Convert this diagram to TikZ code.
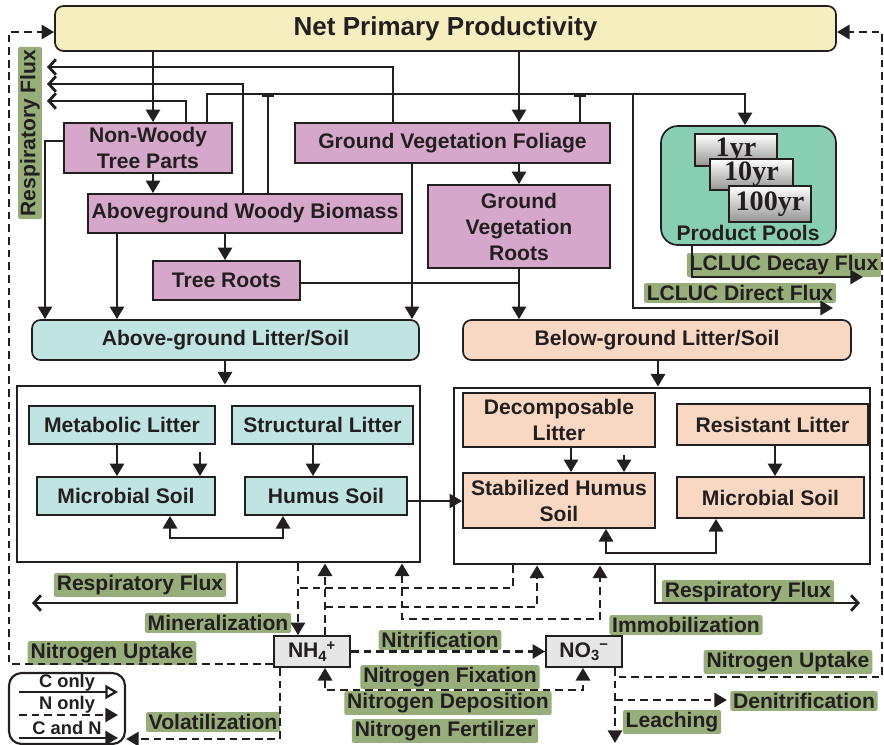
\documentclass[tikz,border=0pt]{standalone}
\usepackage{fontspec}
\setmainfont{Liberation Sans}
\newfontfamily\yrfont{Liberation Serif}
\usetikzlibrary{arrows.meta}
\definecolor{ink}{RGB}{35,31,32}
\definecolor{nppc}{RGB}{246,238,190}
\definecolor{purp}{RGB}{213,168,203}
\definecolor{cyanc}{RGB}{192,228,225}
\definecolor{peach}{RGB}{248,216,194}
\definecolor{tealc}{RGB}{136,206,178}
\definecolor{labg}{RGB}{152,174,122}
\definecolor{ngray}{RGB}{230,230,230}
% box node from pixel corners: style, name, x1, y1, x2, y2, text
\newcommand\bxn[7]{\node[#1,minimum width={(#5-#3)*0.025cm},minimum height={(#6-#4)*0.025cm}] (#2) at ({(#3+#5)/2},{(#4+#6)/2}) {#7};}
\begin{document}
\begin{tikzpicture}[x=0.025cm,y=-0.025cm,
  font=\fontsize{15}{18.5}\selectfont\bfseries,
  every node/.append style={text=ink},
  bx/.style={draw=ink,line width=1.2pt,inner sep=0pt,align=center},
  pbox/.style={bx,fill=purp},
  cbox/.style={bx,fill=cyanc},
  obox/.style={bx,fill=peach},
  cont/.style={draw=ink,line width=2pt,inner sep=0pt,fill=white},
  yrbox/.style={bx,top color=white,bottom color=black!42,font=\yrfont\bfseries\fontsize{20}{22}\selectfont},
  nbox/.style={bx,fill=ngray},
  glab/.style={fill=labg,inner xsep=2pt,inner ysep=1.5pt,rounded corners=1.5pt},
  ln/.style={draw=ink,line width=2pt},
  arr/.style={ln,-{Triangle[length=9pt,width=10pt]}},
  arr2/.style={ln,{Triangle[length=9pt,width=10pt]}-{Triangle[length=9pt,width=10pt]}},
  barb/.style={ln,-{Straight Barb[length=5pt,width=11pt]}},
  dsh/.style={ln,dash pattern=on 5.5pt off 3.5pt},
  darr/.style={dsh,-{Triangle[length=9pt,width=10pt]}},
  darr2/.style={dsh,{Triangle[length=9pt,width=10pt]}-{Triangle[length=9pt,width=10pt]}},
  tbar/.style={ln,{Bar[width=9pt]}-},
]
\useasboundingbox (0,0) rectangle (884,745);

% ---------- nodes ----------
\bxn{bx,fill=nppc,rounded corners=6pt,font=\fontsize{18.5}{22}\selectfont\bfseries}{npp}{55}{6}{836}{51}{Net Primary Productivity}

\bxn{pbox}{nw}{64}{123}{232}{173}{Non-Woody\\Tree Parts}
\bxn{pbox}{awb}{88}{194}{402}{233}{Aboveground Woody Biomass}
\bxn{pbox}{tr}{153}{261}{300}{300}{Tree Roots}
\bxn{pbox}{gvf}{295}{123}{610}{163}{Ground Vegetation Foliage}
\bxn{pbox}{gvr}{428}{185}{610}{268}{Ground\\Vegetation\\Roots}

\bxn{bx,fill=tealc,rounded corners=12pt}{pp}{661}{126}{836}{245}{}
\bxn{yrbox}{y1}{695}{134}{777}{166}{1yr}
\bxn{yrbox}{y10}{710}{159}{793}{190}{10yr}
\bxn{yrbox}{y100}{729}{186}{811}{222}{100yr}
\node (ppl) at (748,233) {Product Pools};

\bxn{cbox,rounded corners=6pt}{agl}{32}{320}{419}{360}{Above-ground Litter/Soil}
\bxn{obox,rounded corners=6pt}{bgl}{463}{320}{851}{360}{Below-ground Litter/Soil}

\bxn{cont}{lbox}{17}{386}{420}{562}{}
\bxn{cont}{rbox}{454}{388}{870}{564}{}

\bxn{cbox}{met}{29}{406}{215}{444}{Metabolic Litter}
\bxn{cbox}{str}{232}{406}{413}{444}{Structural Litter}
\bxn{cbox}{mic1}{37}{477}{215}{515}{Microbial Soil}
\bxn{cbox}{hum}{245}{477}{407}{515}{Humus Soil}

\bxn{obox}{dec}{463}{393}{655}{447}{Decomposable\\Litter}
\bxn{obox}{shs}{463}{473}{655}{528}{Stabilized Humus\\Soil}
\bxn{obox}{res}{677}{404}{868}{445}{Resistant Litter}
\bxn{obox}{mic2}{677}{477}{864}{518}{Microbial Soil}

\bxn{nbox}{nh4}{274}{636}{350}{667}{NH\textsubscript{4}\kern-0.5pt\textsuperscript{+}}
\bxn{nbox}{no3}{546}{636}{622}{667}{NO\textsubscript{3}\kern-0.5pt\textsuperscript{−}}

\bxn{bx,line width=1.5pt,rounded corners=9pt,fill=white}{leg}{9}{673}{125}{744}{}

% ---------- green labels ----------
\node[glab,rotate=90] (lrv) at (30,133) {Respiratory Flux};
\node[glab] (llcd) at (784,265) {LCLUC Decay Flux};
\node[glab] (llcr) at (740,293) {LCLUC Direct Flux};
\node[glab] (lrl) at (140,585) {Respiratory Flux};
\node[glab] (lrr) at (748,592) {Respiratory Flux};
\node[glab] (lmin) at (218,623) {Mineralization};
\node[glab] (lupl) at (112,653) {Nitrogen Uptake};
\node[glab] (lnit) at (440,640) {Nitrification};
\node[glab] (lfix) at (450,677) {Nitrogen Fixation};
\node[glab] (ldep) at (448,703) {Nitrogen Deposition};
\node[glab] (lfer) at (445,731) {Nitrogen Fertilizer};
\node[glab] (limm) at (686,625) {Immobilization};
\node[glab] (lupr) at (788,662) {Nitrogen Uptake};
\node[glab] (lden) at (804,701) {Denitrification};
\node[glab] (llea) at (672,722) {Leaching};
\node[glab] (lvol) at (213,722) {Volatilization};

% ---------- free ends ----------
\coordinate (rf1) at (47,67);
\coordinate (rf2) at (47,84);
\coordinate (rf3) at (47,101);
\coordinate (ldir) at (833,308);
\coordinate (ldec) at (863,277);
\coordinate (m1) at (200,452);
\coordinate (m2) at (624,455);
\coordinate (rfl) at (32,603);
\coordinate (rfr) at (860,603);
\coordinate (dn) at (727,700);
\coordinate (lea) at (615,743);

% ---------- solid connectors ----------
\draw[arr] (153,0 |- npp.south) -- (153,0 |- nw.north);
\draw[arr] (519,0 |- npp.south) -- (519,0 |- gvf.north);
\draw[barb] (393,0 |- gvf.north) |- (rf1);
\draw[barb] (243,0 |- awb.north) |- (rf2);
\draw[barb] (186,0 |- nw.north) |- (rf3);
\draw[arr] (207,0 |- nw.north) -- (207,94) -- (745,94) -- (745,0 |- pp.north);
\draw[tbar] (268,94) -- (268,0 |- awb.north);
\draw[tbar] (580,94) -- (580,0 |- gvf.north);
\draw[arr] (633,94) -- (633,308) -- (ldir);
\draw[arr] (692,0 |- pp.south) -- (692,277) -- (ldec);

\draw[arr] (153,0 |- nw.south) -- (153,0 |- awb.north);
\draw[arr] (nw.west |- 0,141) -- (45,141) -- (45,0 |- agl.north);
\draw[arr] (117,0 |- awb.south) -- (117,0 |- agl.north);
\draw[arr] (225,0 |- awb.south) -- (225,0 |- tr.north);
\draw[ln] (tr.east |- 0,283) -- (519,283);
\draw[arr] (412,0 |- gvf.south) -- (412,0 |- agl.north);
\draw[arr] (519,0 |- gvf.south) -- (519,0 |- gvr.north);
\draw[arr] (519,0 |- gvr.south) -- (519,0 |- bgl.north);
\draw[arr] (225,0 |- agl.south) -- (225,0 |- lbox.north);
\draw[arr] (658,0 |- bgl.south) -- (658,0 |- rbox.north);

\draw[arr] (117,0 |- met.south) -- (117,0 |- mic1.north);
\draw[arr] (m1) -- (200,0 |- mic1.north);
\draw[arr] (313,0 |- str.south) -- (313,0 |- hum.north);
\draw[arr2] (170,0 |- mic1.south) -- (170,538) -- (283,538) -- (283,0 |- hum.south);
\draw[arr] (hum.east |- 0,501) -- (shs.west |- 0,501);

\draw[arr] (571,0 |- dec.south) -- (571,0 |- shs.north);
\draw[arr] (m2) -- (624,0 |- shs.north);
\draw[arr] (775,0 |- res.south) -- (775,0 |- mic2.north);
\draw[arr2] (606,0 |- shs.south) -- (606,553) -- (716,553) -- (716,0 |- mic2.south);

\draw[barb] (237,0 |- lbox.south) -- (237,603) -- (rfl);
\draw[barb] (655,0 |- rbox.south) -- (655,603) -- (rfr);

% ---------- dashed connectors ----------
\draw[darr] (298,0 |- lbox.south) -- (298,0 |- nh4.north);
\draw[dsh] (513,0 |- rbox.south) -- (513,588) -- (298,588);
\draw[darr] (325,0 |- nh4.north) -- (325,0 |- lbox.south);
\draw[darr] (325,607) -- (537,607) -- (537,0 |- rbox.south);
\draw[darr2] (402,0 |- lbox.south) -- (402,619) -- (600,619) -- (600,0 |- rbox.south);
\draw[darr] (nh4.east) -- (nh4.east -| no3.west);
\draw[darr2] (325,0 |- nh4.south) -- (325,690) -- (583,690) -- (583,0 |- no3.south);
\draw[darr] (nh4.west |- 0,664) -- (9,664) -- (9,32) -- (npp.west |- 0,32);
\draw[darr] (615,0 |- no3.south) -- (615,677) -- (882,677) -- (882,32) -- (npp.east |- 0,32);
\draw[darr] (615,0 |- no3.south) -- (lea);
\draw[darr] (615,700) -- (dn);
\draw[darr] (280,0 |- nh4.south) -- (280,739) -- (leg.east |- 0,739);

% ---------- legend ----------
\begin{scope}[font=\fontsize{13}{15}\selectfont\bfseries]
\node (lg1) at (67,683) {C only};
\node (lg2) at (67,705) {N only};
\node (lg3) at (67,728) {C and N};
\end{scope}
\coordinate (la1) at (19,692); \coordinate (lb1) at (118,692);
\coordinate (la2) at (19,715); \coordinate (lb2) at (118,715);
\coordinate (la3) at (19,738); \coordinate (lb3) at (118,738);
\draw[ln,line width=1.6pt,-{Triangle[open,length=9pt,width=10pt]}] (la1) -- (lb1);
\draw[ln,line width=1.6pt,dash pattern=on 5.5pt off 3.5pt,-{Triangle[length=9pt,width=10pt]}] (la2) -- (lb2);
\draw[ln,line width=1.6pt,-{Triangle[length=9pt,width=10pt]}] (la3) -- (lb3);
\end{tikzpicture}
\end{document}
